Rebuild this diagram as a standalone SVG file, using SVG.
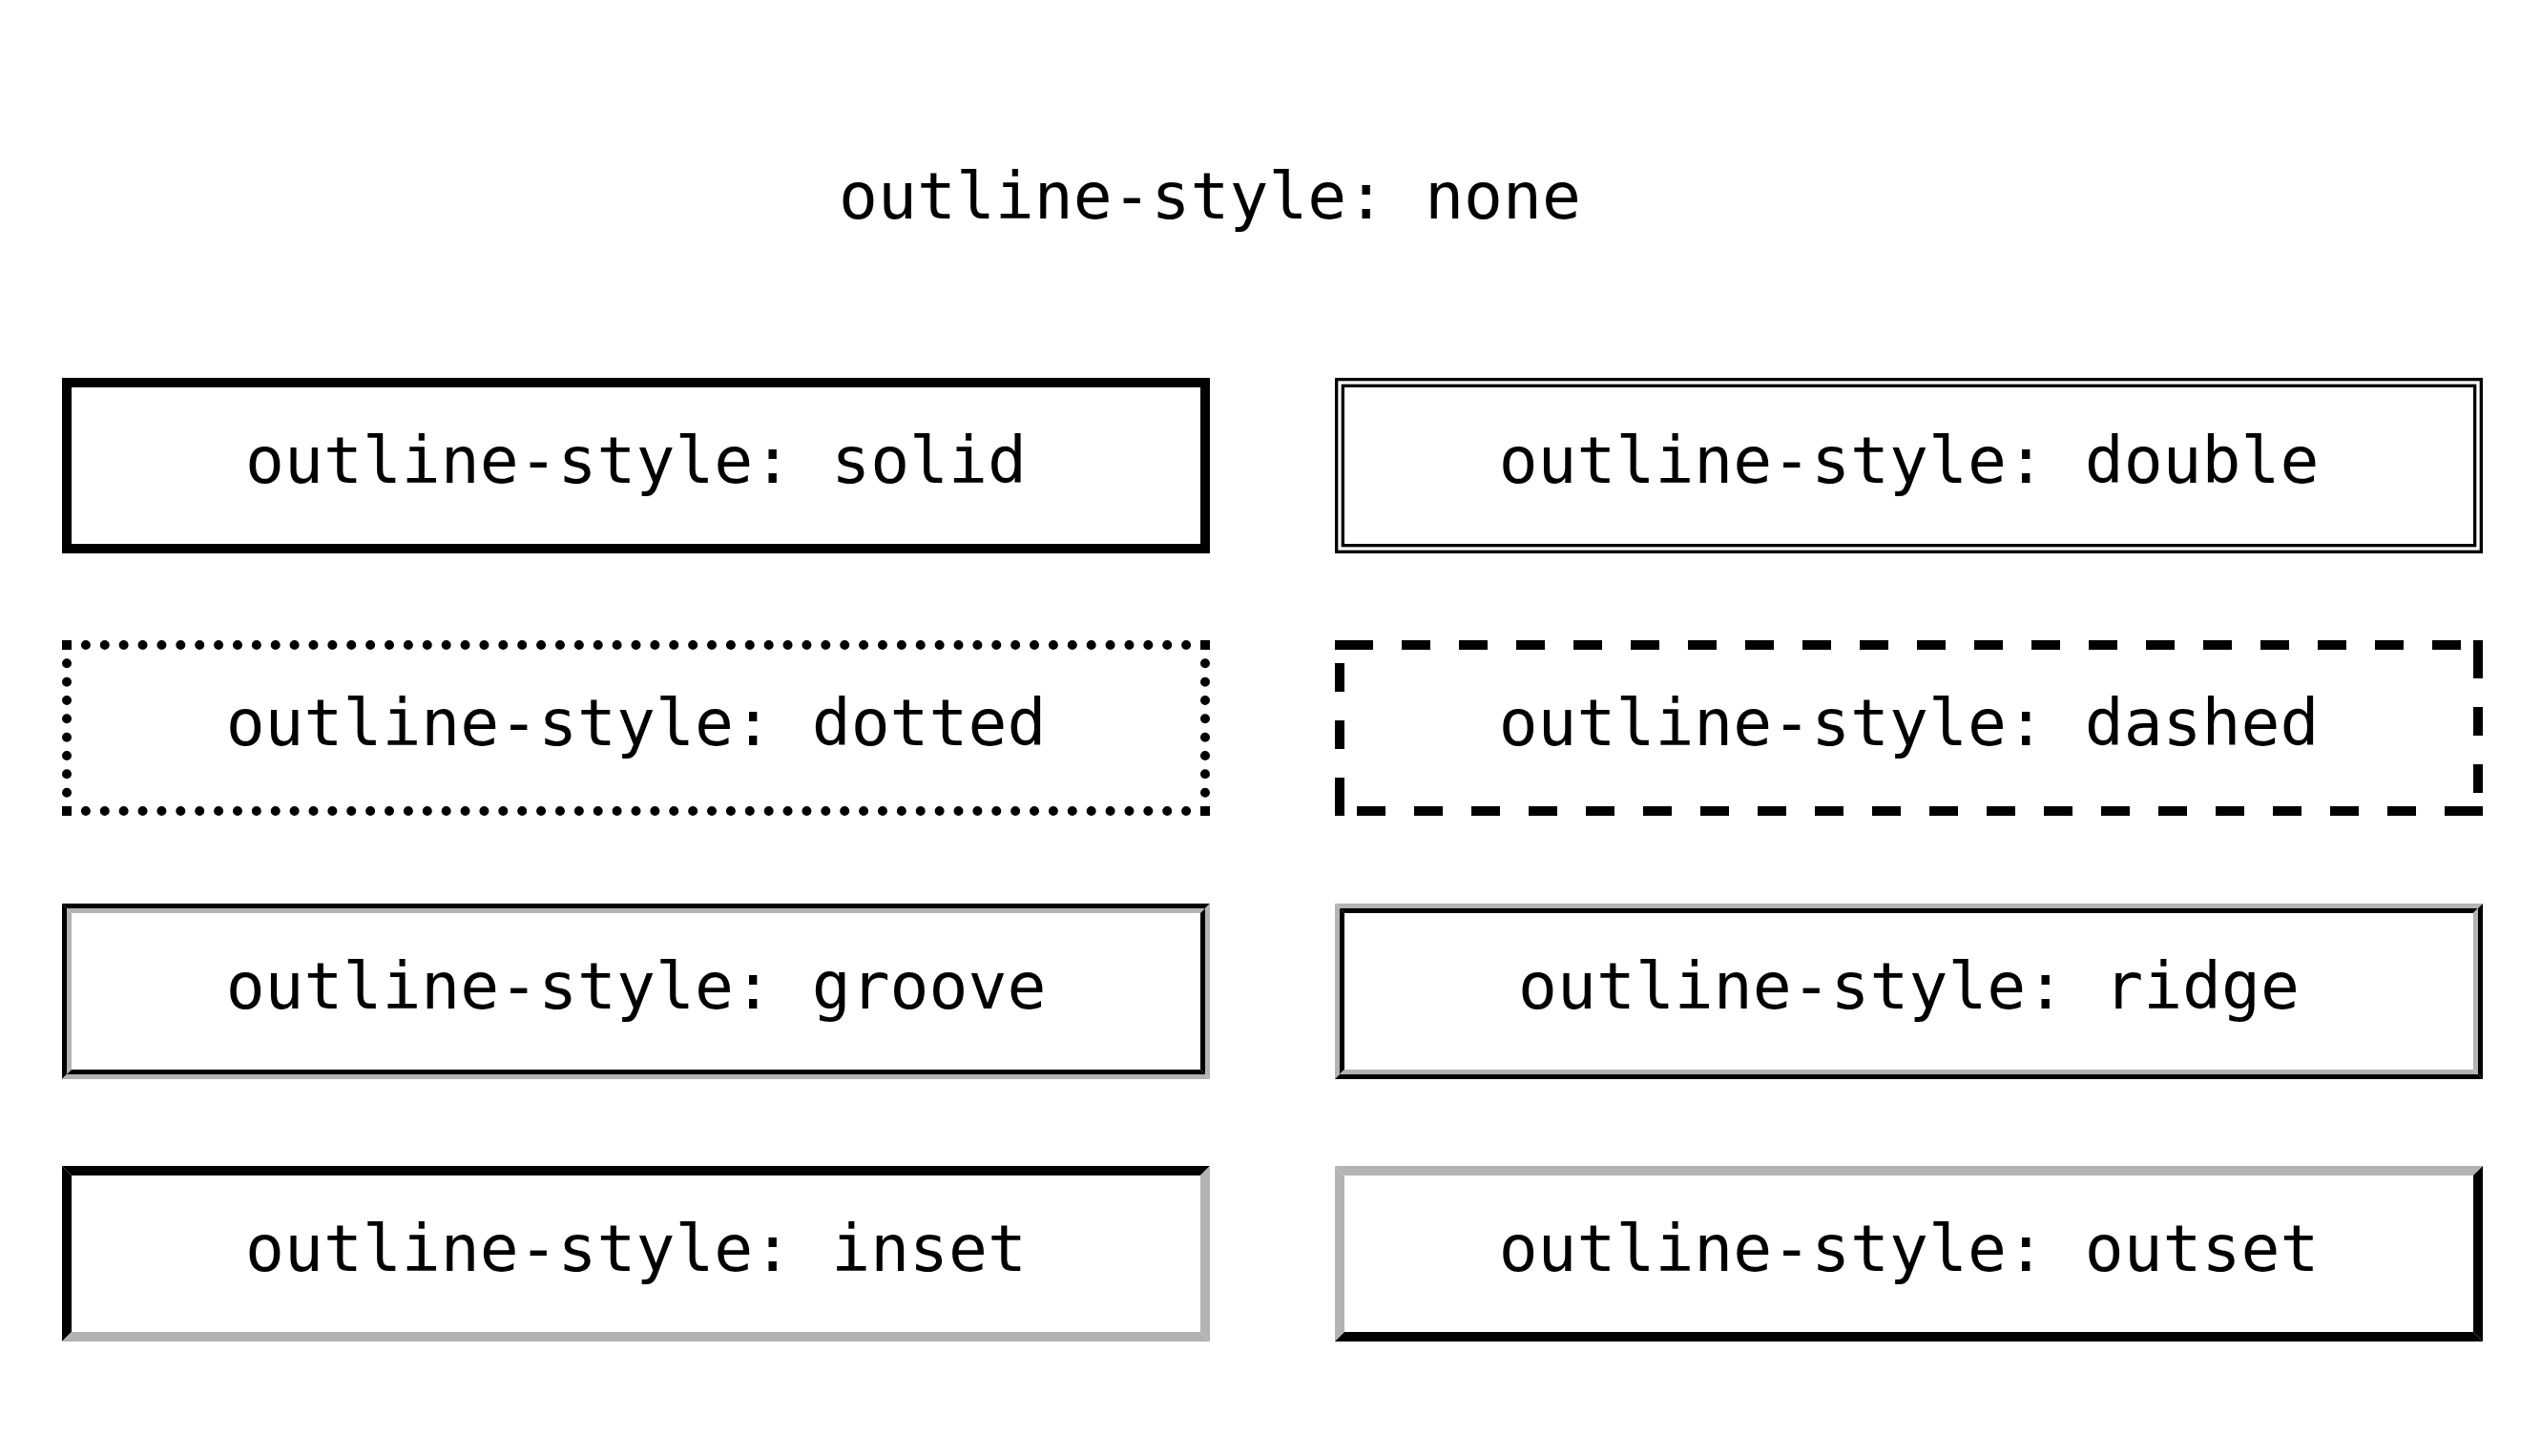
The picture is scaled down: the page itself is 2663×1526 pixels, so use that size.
<svg xmlns="http://www.w3.org/2000/svg" width="2663" height="1526" viewBox="0 0 2663 1526">
<style>
  text { font-family: "DejaVu Sans Mono", "Liberation Mono", monospace; font-size: 68px; fill: #000; text-anchor: middle; }
  .blk { fill: #000; }
  .gry { fill: #b3b3b3; }
  .dot { fill: none; stroke: #000; stroke-width: 10; stroke-linecap: round; }
  .dash { fill: none; stroke: #000; stroke-width: 10; stroke-linecap: butt; stroke-dasharray: 30 30; }
</style>
<rect x="0" y="0" width="2663" height="1526" fill="#fff"/>

<g id="none">
  <text x="1268" y="229">outline-style: none</text>
</g>

<g id="solid">
  <rect x="70" y="401" width="1193" height="174" fill="none" stroke="#000" stroke-width="10"/>
  <text x="666.5" y="506">outline-style: solid</text>
</g>

<g id="double">
  <rect x="1400.67" y="397.67" width="1199.67" height="180.67" fill="none" stroke="#000" stroke-width="3.33"/>
  <rect x="1407.33" y="404.33" width="1186.33" height="167.33" fill="none" stroke="#000" stroke-width="3.33"/>
  <text x="2000.5" y="506">outline-style: double</text>
</g>

<g id="dotted">
  <path class="dot" d="M70 676 H1263.5" stroke-dasharray="0 19.883"/>
  <path class="dot" d="M70 850 H1263.5" stroke-dasharray="0 19.883"/>
  <path class="dot" d="M70 676 V850.5" stroke-dasharray="0 19.333"/>
  <path class="dot" d="M1263 676 V850.5" stroke-dasharray="0 19.333"/>
  <rect class="blk" x="65" y="671" width="10" height="10"/>
  <rect class="blk" x="1258" y="671" width="10" height="10"/>
  <rect class="blk" x="65" y="845" width="10" height="10"/>
  <rect class="blk" x="1258" y="845" width="10" height="10"/>
  <text x="666.5" y="781">outline-style: dotted</text>
</g>

<g id="dashed">
  <rect class="blk" x="1399" y="671" width="10" height="10"/>
  <rect class="blk" x="2592" y="671" width="10" height="10"/>
  <rect class="blk" x="1399" y="845" width="10" height="10"/>
  <rect class="blk" x="2592" y="845" width="10" height="10"/>
  <path class="dash" d="M1409 676 H2592"/>
  <path class="dash" d="M2597 681 V845"/>
  <path class="dash" d="M2592 850 H1409"/>
  <path class="dash" d="M1404 845 V681"/>
  <text x="2000.5" y="781">outline-style: dashed</text>
</g>

<g id="groove">
  <polygon class="blk" points="65,947 1268,947 1263,952 70,952"/>
  <polygon class="gry" points="70,952 1263,952 1258,957 75,957"/>
  <polygon class="blk" points="65,947 70,952 70,1126 65,1131"/>
  <polygon class="gry" points="70,952 75,957 75,1121 70,1126"/>
  <polygon class="gry" points="65,1131 1268,1131 1263,1126 70,1126"/>
  <polygon class="blk" points="70,1126 1263,1126 1258,1121 75,1121"/>
  <polygon class="gry" points="1268,947 1268,1131 1263,1126 1263,952"/>
  <polygon class="blk" points="1263,952 1263,1126 1258,1121 1258,957"/>
  <text x="666.5" y="1057">outline-style: groove</text>
</g>

<g id="ridge">
  <polygon class="gry" points="1399,947 2602,947 2597,952 1404,952"/>
  <polygon class="blk" points="1404,952 2597,952 2592,957 1409,957"/>
  <polygon class="gry" points="1399,947 1404,952 1404,1126 1399,1131"/>
  <polygon class="blk" points="1404,952 1409,957 1409,1121 1404,1126"/>
  <polygon class="blk" points="1399,1131 2602,1131 2597,1126 1404,1126"/>
  <polygon class="gry" points="1404,1126 2597,1126 2592,1121 1409,1121"/>
  <polygon class="blk" points="2602,947 2602,1131 2597,1126 2597,952"/>
  <polygon class="gry" points="2597,952 2597,1126 2592,1121 2592,957"/>
  <text x="2000.5" y="1057">outline-style: ridge</text>
</g>

<g id="inset">
  <polygon class="blk" points="65,1222 1268,1222 1258,1232 75,1232"/>
  <polygon class="blk" points="65,1222 75,1232 75,1396 65,1406"/>
  <polygon class="gry" points="65,1406 1268,1406 1258,1396 75,1396"/>
  <polygon class="gry" points="1268,1222 1268,1406 1258,1396 1258,1232"/>
  <text x="666.5" y="1332">outline-style: inset</text>
</g>

<g id="outset">
  <polygon class="gry" points="1399,1222 2602,1222 2592,1232 1409,1232"/>
  <polygon class="gry" points="1399,1222 1409,1232 1409,1396 1399,1406"/>
  <polygon class="blk" points="1399,1406 2602,1406 2592,1396 1409,1396"/>
  <polygon class="blk" points="2602,1222 2602,1406 2592,1396 2592,1232"/>
  <text x="2000.5" y="1332">outline-style: outset</text>
</g>

<g id="connectors"></g>
</svg>
